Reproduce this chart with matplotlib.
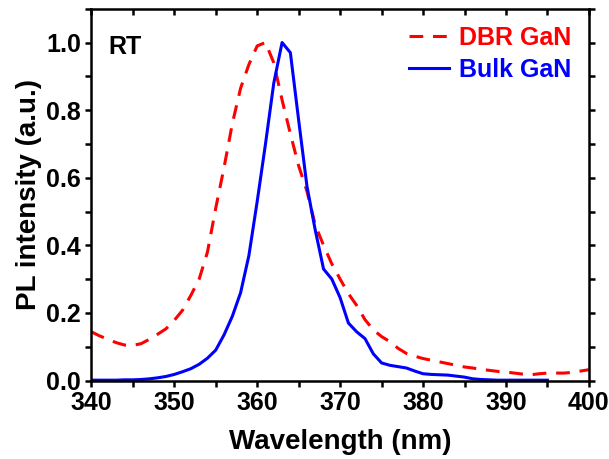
import matplotlib
matplotlib.use('Agg')
import matplotlib.pyplot as plt
from matplotlib.ticker import MultipleLocator

# spectra (normalized PL)
wl_dbr = list(range(340, 401))
pl_dbr = [0.144, 0.132, 0.122, 0.112, 0.105, 0.104, 0.109, 0.122, 0.137, 0.153,
          0.178, 0.208, 0.252, 0.300, 0.380, 0.510, 0.630, 0.760, 0.865, 0.935,
          0.990, 1.000, 0.940, 0.830, 0.730, 0.635, 0.560, 0.460, 0.400, 0.345,
          0.300, 0.257, 0.222, 0.180, 0.150, 0.130, 0.115, 0.095, 0.080, 0.072,
          0.065, 0.060, 0.055, 0.050, 0.045, 0.040, 0.037, 0.033, 0.030, 0.027,
          0.025, 0.022, 0.019, 0.017, 0.020, 0.022, 0.022, 0.022, 0.024, 0.028,
          0.032]

wl_bulk = list(range(340, 396))
pl_bulk = [0.001, 0.001, 0.001, 0.001, 0.002, 0.002, 0.003, 0.005, 0.008, 0.012,
           0.018, 0.026, 0.035, 0.048, 0.066, 0.090, 0.135, 0.190, 0.260, 0.370,
           0.530, 0.700, 0.880, 1.000, 0.970, 0.770, 0.575, 0.445, 0.330, 0.300,
           0.245, 0.170, 0.144, 0.124, 0.079, 0.052, 0.045, 0.041, 0.037, 0.028,
           0.020, 0.018, 0.017, 0.016, 0.013, 0.010, 0.005, 0.003, 0.002, 0.001,
           0.001, 0.001, 0.001, 0.001, 0.001, 0.001]

plt.rcParams['font.family'] = ['Liberation Sans', 'DejaVu Sans']
plt.rcParams['font.weight'] = 'bold'

fig = plt.figure(figsize=(6.09, 4.59), dpi=100)
ax = fig.add_axes([0.150, 0.171, 0.817, 0.810])

ax.plot(wl_dbr, pl_dbr, color='red', lw=2.2, linestyle=(0, (4.5, 3.2)), label='DBR GaN')
ax.plot(wl_bulk, pl_bulk, color='blue', lw=2.2, label='Bulk GaN')

ax.set_xlim(340, 400)
ax.set_ylim(0, 1.1)
ax.xaxis.set_major_locator(MultipleLocator(10))
ax.xaxis.set_minor_locator(MultipleLocator(5))
ax.yaxis.set_minor_locator(MultipleLocator(0.1))
ax.set_yticks([0.0, 0.2, 0.4, 0.6, 0.8, 1.0])

for s in ax.spines.values():
    s.set_linewidth(1.8)
ax.tick_params(which='both', direction='out', width=1.8, length=4, labelsize=18,
               top=True, right=True)
# top ticks pointing inward
for t in ax.xaxis.get_ticklines(minor=False)[1::2] + ax.xaxis.get_ticklines(minor=True)[1::2]:
    t.set_marker(3)

ax.set_xlabel('Wavelength (nm)', fontsize=20, fontweight='bold', labelpad=10)
ax.set_ylabel('PL intensity (a.u.)', fontsize=20, fontweight='bold', labelpad=3)

ax.text(0.035, 0.879, 'RT', transform=ax.transAxes, fontsize=18, fontweight='bold')

leg = ax.legend(loc='upper right', frameon=False, fontsize=18, handlelength=1.6,
                handletextpad=0.4, labelspacing=0.3, borderaxespad=0.3)
for txt, c in zip(leg.get_texts(), ['red', 'blue']):
    txt.set_color(c)

fig.savefig('out.png', dpi=100)
